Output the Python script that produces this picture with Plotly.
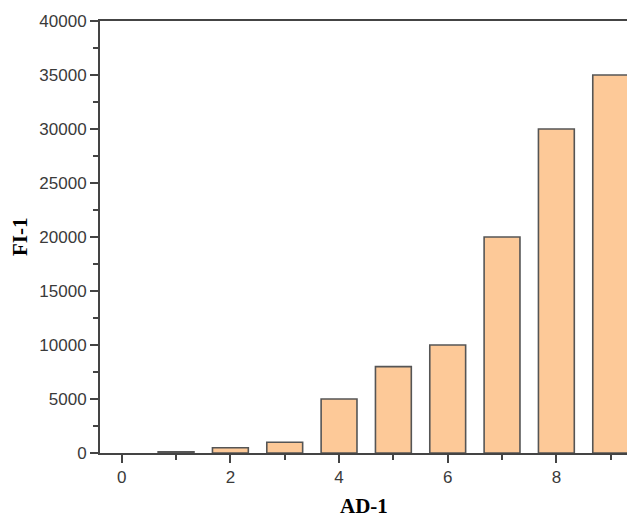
import plotly.graph_objects as go

categories = [1, 2, 3, 4, 5, 6, 7, 8, 9]
values = [120, 480, 1000, 5000, 8000, 10000, 20000, 30000, 35000]
x_title = "AD-1"
y_title = "FI-1"

axis_color = "#444444"
tick_font = dict(family="Liberation Sans, Arial", size=17, color="#3a3a3a")

fig = go.Figure(go.Bar(
    x=categories, y=values, width=0.66,
    marker=dict(color="#FDC998", line=dict(color="#555555", width=1.6)),
))

fig.update_layout(
    width=627, height=517,
    margin=dict(l=100, r=0, t=21, b=64),
    paper_bgcolor="white", plot_bgcolor="white",
    showlegend=False,
    xaxis=dict(
        range=[-0.4, 9.3], tickmode="linear", tick0=0, dtick=2,
        ticks="outside", ticklen=8, tickwidth=2, tickcolor=axis_color,
        minor=dict(dtick=1, tick0=0, ticks="outside", ticklen=5, tickwidth=2, tickcolor=axis_color),
        showline=True, linecolor=axis_color, linewidth=2, mirror=True,
        showgrid=False, zeroline=False, tickfont=tick_font,
    ),
    yaxis=dict(
        range=[0, 40000], tickmode="linear", tick0=0, dtick=5000, tickformat="d",
        ticks="outside", ticklen=8, tickwidth=2, tickcolor=axis_color,
        minor=dict(dtick=2500, tick0=0, ticks="outside", ticklen=5, tickwidth=2, tickcolor=axis_color),
        showline=True, linecolor=axis_color, linewidth=2,
        showgrid=False, zeroline=False, tickfont=tick_font,
    ),
    annotations=[
        dict(text="<b>" + x_title + "</b>", xref="paper", yref="paper",
             x=0.5, y=0, yshift=-53, xanchor="center", yanchor="middle", showarrow=False,
             font=dict(family="Liberation Serif, Times New Roman", size=21, color="black")),
        dict(text="<b>" + y_title + "</b>", xref="paper", yref="paper",
             x=0, xshift=-80, y=0.5, xanchor="center", yanchor="middle", showarrow=False,
             textangle=-90,
             font=dict(family="Liberation Serif, Times New Roman", size=21, color="black")),
    ],
)

fig.write_html(
    "out.html",
    config={"displayModeBar": False},
    post_script="document.body.style.margin='0';document.body.style.overflow='hidden';",
)
